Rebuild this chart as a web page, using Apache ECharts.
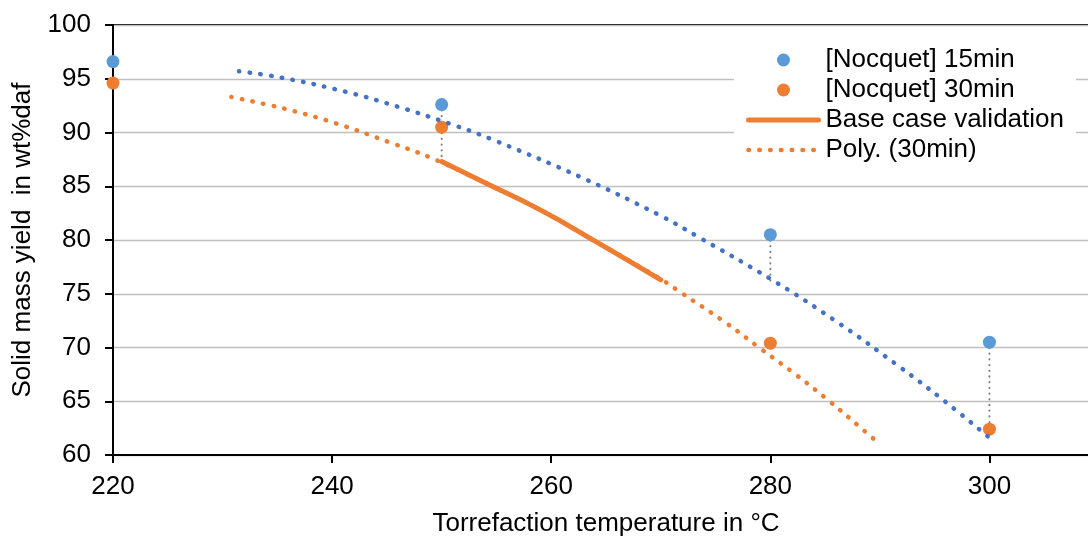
<!DOCTYPE html>
<html>
<head>
<meta charset="utf-8">
<script src="https://cdn.jsdelivr.net/npm/echarts@6/dist/echarts.min.js"></script>
<style>
html,body{margin:0;padding:0;background:#fff;}
#chart{width:1088px;height:536px;}
</style>
</head>
<body>
<div id="chart"></div>
<script>
// Experimental points [temperature °C, solid mass yield wt%daf]
const nocquet15 = [[220, 96.6], [250, 92.6], [280, 80.5], [300, 70.5]];
const nocquet30 = [[220, 94.6], [250, 90.5], [280, 70.4], [300, 62.4]];
// Model curve, base case validation
const baseCase = [[250, 87.3], [254, 85.3], [259, 82.8], [264, 79.9], [270, 76.3]];
// Polynomial trendline (30min)
const poly30 = [[230.8, 93.3], [235.7, 92.2], [240.5, 90.8], [245.2, 89.1], [248.9, 87.7],
  [254, 85.3], [259, 82.8], [264, 79.9], [270.1, 76.3], [271.7, 75.2], [275.8, 72.4],
  [279.1, 69.9], [282.3, 67.5], [285.4, 65.0], [288.4, 62.4], [290, 61.0]];
// Second dotted curve (15min trend, not in legend)
const poly15 = [[231.5, 95.7], [235.4, 95.1], [241.2, 93.8], [246, 92.4], [250.8, 90.8],
  [254.5, 89.4], [262.8, 85.8], [269.9, 82.3], [273.4, 80.3], [280.3, 76.2], [286.2, 72.3],
  [291.8, 68.2], [295.8, 65.1], [300, 61.6]];
// Grey dotted deviation lines
const devLines = [
  [[250, 92.6], [250, 87.3]],
  [[280, 80.5], [280, 76.2]],
  [[300, 70.5], [300, 62.4]]
];
const xTicks = {min: 220, max: 310, interval: 20};
const yTicks = {min: 60, max: 100, interval: 5};
const xTitle = 'Torrefaction temperature in °C';
const yTitle = 'Solid mass yield  in wt%daf';

const FONT = 'Liberation Sans, Arial, sans-serif';
const ORANGE = '#ED7D31';
const dotted = {width: 4.5, type: [0.5, 10.3], cap: 'round'};
const chart = echarts.init(document.getElementById('chart'), null, {renderer: 'canvas'});

const series = [];
devLines.forEach((seg, i) => {
  series.push({
    name: 'dev' + i, type: 'line', data: seg, symbol: 'none', silent: true, z: 1,
    lineStyle: {color: '#7F7F7F', width: 2, type: [0.3, 5.4], cap: 'round'}
  });
});
series.push({
  name: '[Nocquet] 15min', type: 'scatter', data: nocquet15, symbol: 'circle', symbolSize: 13,
  itemStyle: {color: '#5B9BD5', opacity: 1}, clip: false, z: 3
});
series.push({
  name: '[Nocquet] 30min', type: 'scatter', data: nocquet30, symbol: 'circle', symbolSize: 13,
  itemStyle: {color: ORANGE, opacity: 1}, clip: false, z: 3
});
series.push({
  name: 'Poly. (30min)', type: 'line', data: poly30, symbol: 'none', smooth: 0.4, z: 4,
  itemStyle: {color: ORANGE},
  lineStyle: Object.assign({color: ORANGE}, dotted)
});
series.push({
  name: 'Base case validation', type: 'line', data: baseCase, symbol: 'none', smooth: 0.5, z: 5,
  itemStyle: {color: ORANGE},
  lineStyle: {color: ORANGE, width: 5, cap: 'round'}
});
series.push({
  name: 'poly15', type: 'line', data: poly15, symbol: 'none', smooth: 0.4, z: 6,
  itemStyle: {color: '#4472C4'},
  lineStyle: Object.assign({color: '#4472C4'}, dotted)
});

chart.setOption({
  animation: false,
  backgroundColor: '#fff',
  textStyle: {fontFamily: FONT},
  grid: {left: 113, top: 25, width: 986, height: 430, show: true, borderColor: '#000', borderWidth: 2,
    outerBoundsMode: 'none', containLabel: false},
  legend: {
    left: 734, top: 39, orient: 'vertical', backgroundColor: '#fff',
    padding: [8, 12, 8, 12], itemWidth: 70, itemHeight: 13, itemGap: 4,
    textStyle: {fontFamily: FONT, fontSize: 26, color: '#000', padding: [0, 0, 0, 2]},
    data: [
      {name: '[Nocquet] 15min', icon: 'circle', itemStyle: {color: '#5B9BD5', opacity: 1}},
      {name: '[Nocquet] 30min', icon: 'circle', itemStyle: {color: ORANGE, opacity: 1}},
      {name: 'Base case validation', itemStyle: {opacity: 0},
        lineStyle: {color: ORANGE, width: 5, cap: 'round', type: 'solid'}},
      {name: 'Poly. (30min)', itemStyle: {opacity: 0},
        lineStyle: Object.assign({color: ORANGE}, dotted)}
    ]
  },
  xAxis: {
    type: 'value', min: xTicks.min, max: xTicks.max, interval: xTicks.interval,
    name: xTitle, nameLocation: 'middle', nameGap: 56,
    nameTextStyle: {fontFamily: FONT, fontSize: 26, color: '#000'},
    axisLine: {show: true, onZero: false, lineStyle: {color: '#000', width: 2}},
    axisTick: {show: true, length: 8, lineStyle: {color: '#000', width: 2}},
    axisLabel: {fontFamily: FONT, fontSize: 26, color: '#000', margin: 19, showMaxLabel: false},
    splitLine: {show: false}
  },
  yAxis: {
    type: 'value', min: yTicks.min, max: yTicks.max, interval: yTicks.interval,
    name: yTitle, nameLocation: 'middle', nameGap: 77, nameRotate: 90,
    nameTextStyle: {fontFamily: FONT, fontSize: 26, color: '#000'},
    axisLine: {show: true, onZero: false, lineStyle: {color: '#000', width: 2}},
    axisTick: {show: true, length: 8, lineStyle: {color: '#000', width: 2}},
    axisLabel: {fontFamily: FONT, fontSize: 26, color: '#000', margin: 22},
    splitLine: {show: true, lineStyle: {color: '#BFBFBF', width: 1.3}}
  },
  series: series
});
</script>
</body>
</html>
